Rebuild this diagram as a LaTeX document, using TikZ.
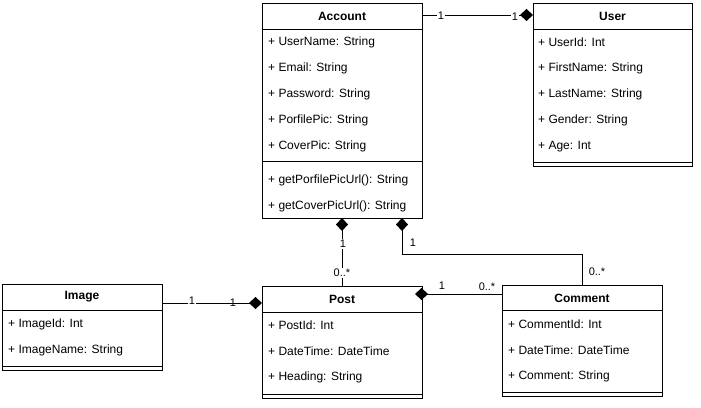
\documentclass[tikz,border=0pt]{standalone}
\usepackage{fontspec}
\setmainfont{Liberation Sans}
\usetikzlibrary{arrows.meta,calc}
\begin{document}
\begin{tikzpicture}[x=1pt,y=-1pt,
  box/.style={draw,line width=1pt,fill=white,anchor=north west,inner sep=0pt,outer sep=0pt},
  ttl/.style={font=\fontsize{12}{14}\selectfont\bfseries,inner sep=0pt},
  attr/.style={font=\fontsize{12}{14}\selectfont,anchor=west,inner sep=0pt},
  mult/.style={font=\fontsize{11}{13}\selectfont,fill=white,inner sep=1pt},
  multb/.style={font=\fontsize{11}{13}\selectfont,inner sep=1pt},
  conn/.style={line width=1pt},
  comp/.style={conn,-{Diamond[length=13pt,width=12pt]}}
]
\useasboundingbox[fill=white] (0,0) rectangle (701,407);

% Account
\node[box,minimum width=160pt,minimum height=215pt] (account) at (262,3) {};
\draw[line width=1pt] (262,29) -- (422,29) (262,161) -- (422,161);
\node[ttl] (accountT) at (342,16) {Account};
\node[attr] (acc1) at (268,42.5) {+ UserName: String};
\node[attr] (acc2) at (268,68.5) {+ Email: String};
\node[attr] (acc3) at (268,94.5) {+ Password: String};
\node[attr] (acc4) at (268,120.5) {+ PorfilePic: String};
\node[attr] (acc5) at (268,146.5) {+ CoverPic: String};
\node[attr] (acc6) at (268,180.5) {+ getPorfilePicUrl(): String};
\node[attr] (acc7) at (268,206.5) {+ getCoverPicUrl(): String};

% User
\node[box,minimum width=159pt,minimum height=163pt] (user) at (533,3) {};
\draw[line width=1pt] (533,29) -- (692,29) (533,162) -- (692,162);
\node[ttl] (userT) at (612.5,16) {User};
\node[attr] (us1) at (538,42.5) {+ UserId: Int};
\node[attr] (us2) at (538,68.5) {+ FirstName: String};
\node[attr] (us3) at (538,94.5) {+ LastName: String};
\node[attr] (us4) at (538,120.5) {+ Gender: String};
\node[attr] (us5) at (538,146.5) {+ Age: Int};

% Image
\node[box,minimum width=160pt,minimum height=86pt] (image) at (2,284) {};
\draw[line width=1pt] (2,310) -- (162,310) (2,366) -- (162,366);
\node[ttl] (imageT) at (82,297) {Image};
\node[attr] (im1) at (8,324.5) {+ ImageId: Int};
\node[attr] (im2) at (8,350.5) {+ ImageName: String};

% Post
\node[box,minimum width=160pt,minimum height=112pt] (post) at (262,286) {};
\draw[line width=1pt] (262,312) -- (422,312) (262,394) -- (422,394);
\node[ttl] (postT) at (342,299) {Post};
\node[attr] (po1) at (268,325.5) {+ PostId: Int};
\node[attr] (po2) at (268,351.5) {+ DateTime: DateTime};
\node[attr] (po3) at (268,377.5) {+ Heading: String};

% Comment
\node[box,minimum width=160pt,minimum height=111pt] (comment) at (502,285) {};
\draw[line width=1pt] (502,310) -- (662,310) (502,392) -- (662,392);
\node[ttl] (commentT) at (582,298) {Comment};
\node[attr] (co1) at (508,324.5) {+ CommentId: Int};
\node[attr] (co2) at (508,350.5) {+ DateTime: DateTime};
\node[attr] (co3) at (508,376.5) {+ Comment: String};

% Connectors
\draw[comp] ($(account.north east)+(0,12)$) -- ($(user.north west)+(0,12)$);
\draw[comp] ($(image.north east)+(0,19)$) -- ($(post.north west)+(0,17)$);
\draw[comp] ($(post.north west)+(80,0)$) -- ($(account.south west)+(80,0)$);
\draw[comp] ($(comment.north west)+(80,0)$) -- ++(0,-31) -| ($(account.south west)+(140,0)$);
\draw[comp] ($(comment.north west)+(0,9)$) -- ($(post.north east)+(-7,8)$);

% Multiplicities
\node[mult] (m1) at (441,16) {1};
\node[mult] (m2) at (515,17) {1};
\node[mult] (m3) at (192,301) {1};
\node[multb] (m4) at (233,303) {1};
\node[mult] (m5) at (343,244) {1};
\node[mult] (m6) at (342,273) {0..*};
\node[mult] (m7) at (413,243) {1};
\node[mult] (m8) at (597,272) {0..*};
\node[mult] (m9) at (442,286) {1};
\node[mult] (m10) at (487,287) {0..*};
\end{tikzpicture}
\end{document}
